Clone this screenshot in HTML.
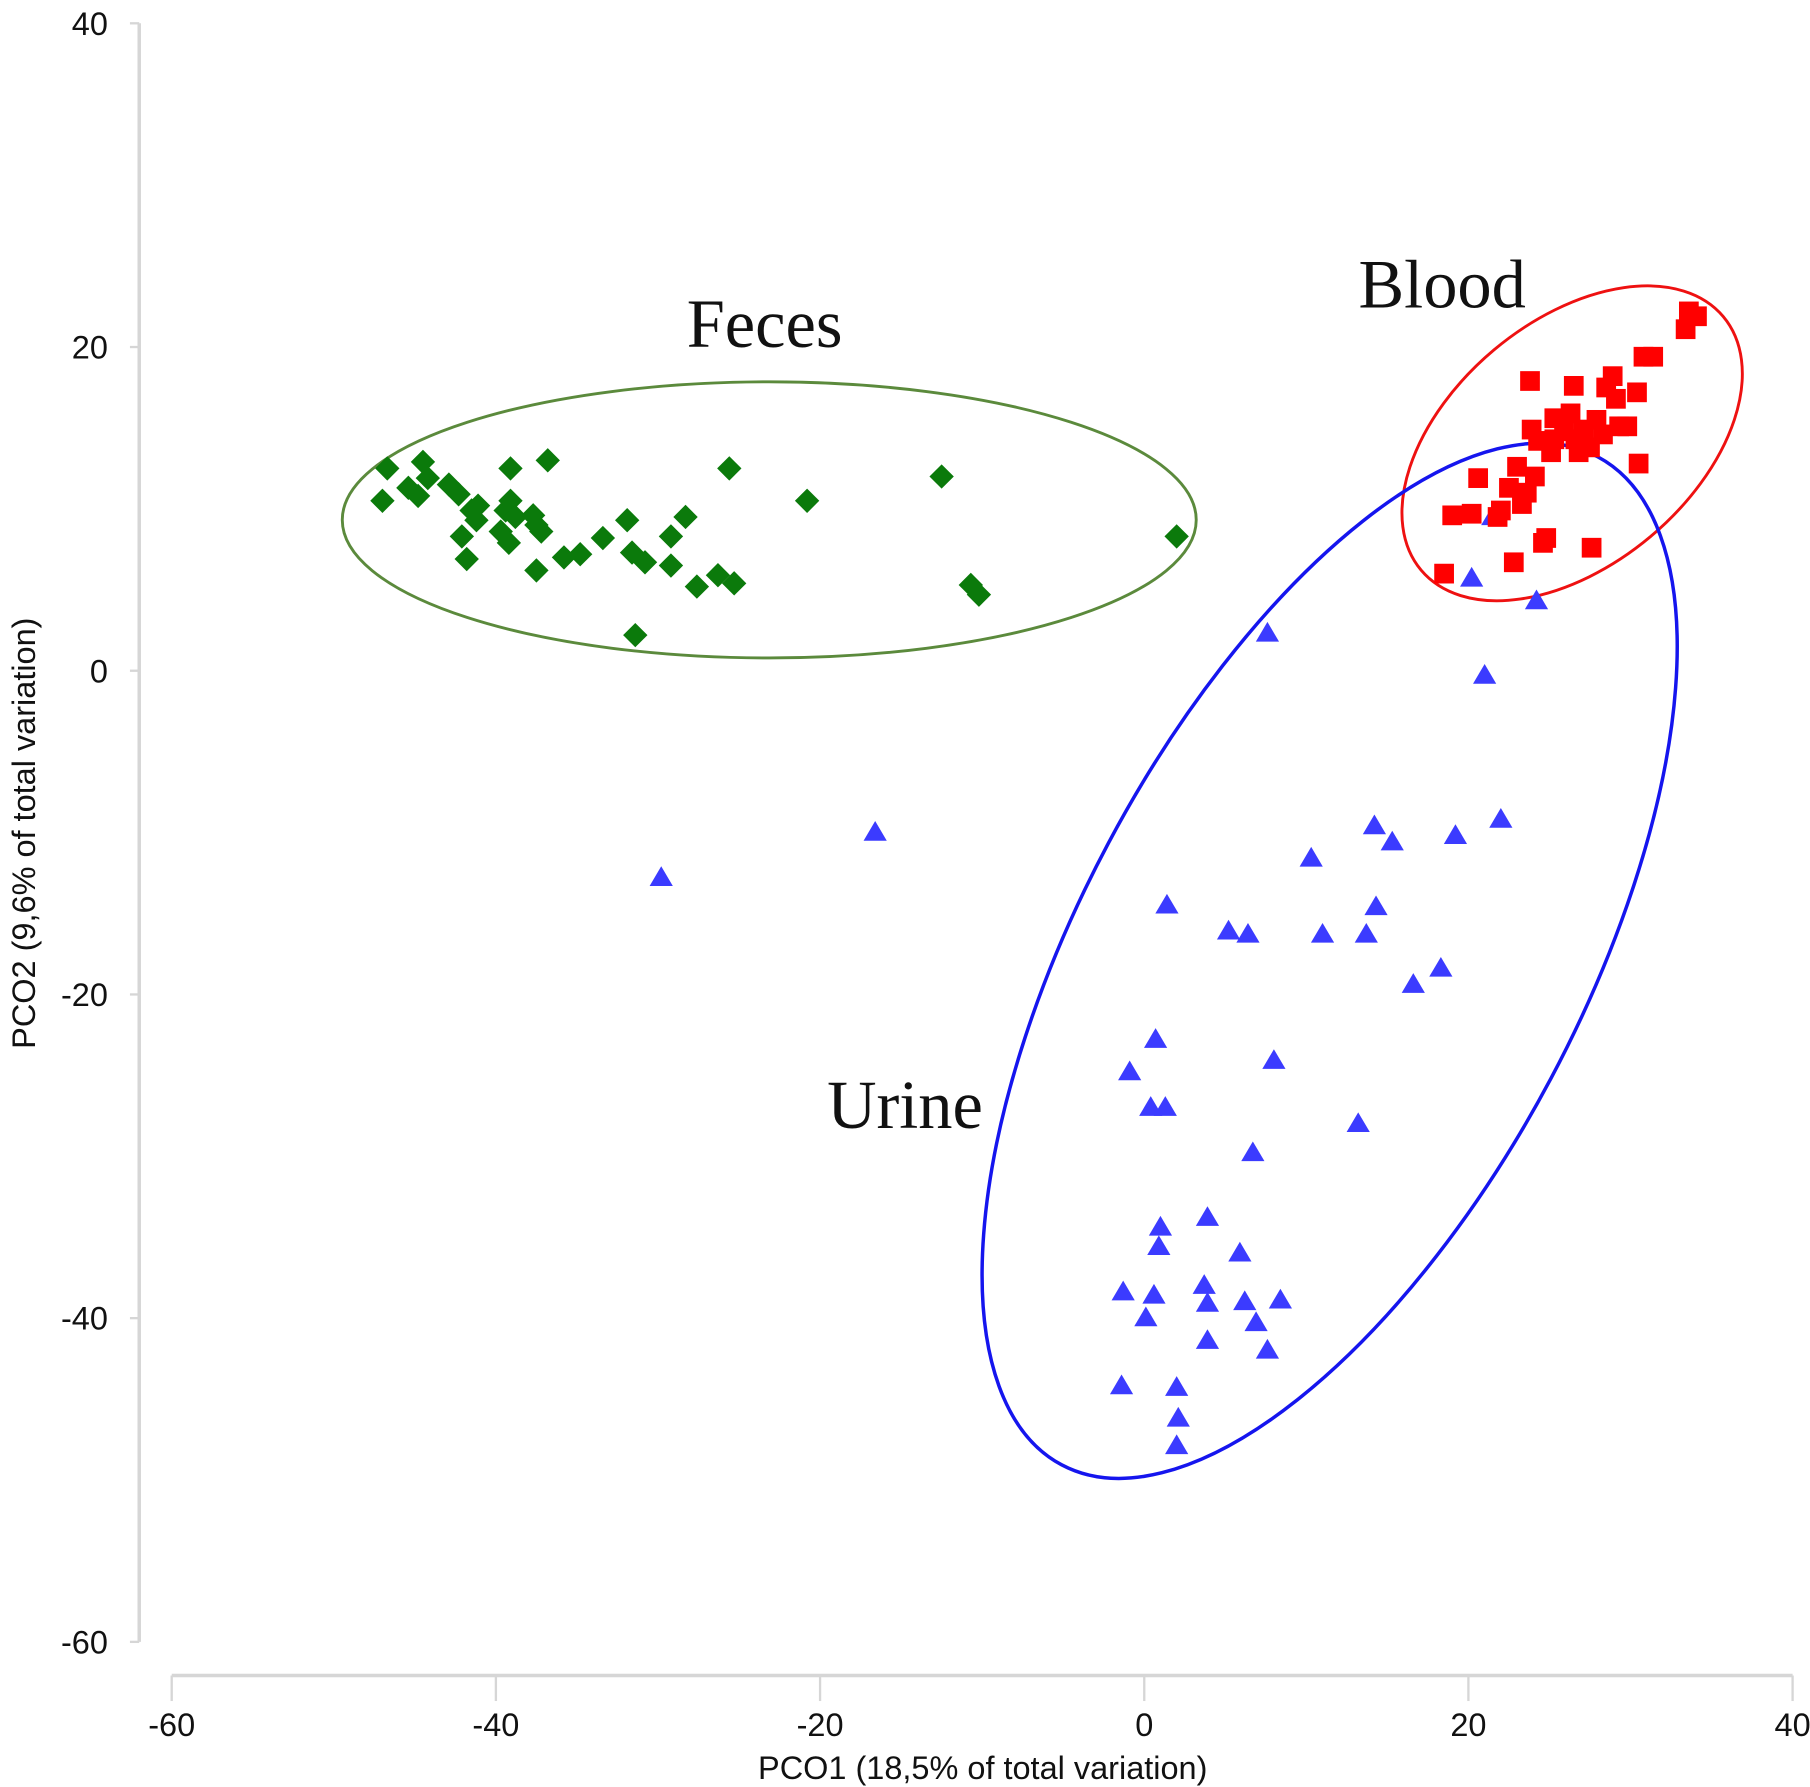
<!DOCTYPE html>
<html><head><meta charset="utf-8"><style>
html,body{margin:0;padding:0;background:#fff;}
svg{display:block;}
text{font-family:"Liberation Sans",Arial,sans-serif;}
</style></head><body>
<svg id="chart" width="1810" height="1787" viewBox="0 0 1560 1540" xmlns="http://www.w3.org/2000/svg">
<g id="axes"></g>
<g id="ellipses"></g>
<g id="points"></g>
<text x="659" y="299" text-anchor="middle" style="font-family:'Liberation Serif',serif;font-size:59px;fill:#111">Feces</text>
<text x="1243" y="265" text-anchor="middle" style="font-family:'Liberation Serif',serif;font-size:59px;fill:#111">Blood</text>
<text x="780" y="972" text-anchor="middle" style="font-family:'Liberation Serif',serif;font-size:59px;fill:#111">Urine</text>
<text x="847" y="1533" text-anchor="middle" font-size="28" fill="#111">PCO1 (18,5% of total variation)</text>
<text transform="translate(30,718) rotate(-90)" text-anchor="middle" font-size="28" fill="#111">PCO2 (9,6% of total variation)</text>
</svg>
<script>
const xTicks=[-60,-40,-20,0,20,40];
const yTicks=[40,20,0,-20,-40,-60];
const fecesX=[-46.7,-47.0,-45.4,-44.5,-44.8,-44.2,-42.9,-42.3,-42.1,-41.8,-41.5,-41.2,-41.1,-39.1,-39.4,-39.7,-39.2,-39.1,-38.8,-37.7,-37.5,-37.2,-36.8,-37.5,-35.8,-34.8,-33.4,-31.9,-31.6,-30.8,-29.2,-29.2,-28.3,-27.6,-26.3,-25.3,-25.6,-31.4,-20.8,-12.5,-10.7,-10.2,2.0];
const fecesY=[12.5,10.5,11.3,12.9,10.8,11.9,11.5,10.9,8.3,6.9,9.9,9.3,10.2,12.5,9.9,8.6,7.9,10.5,9.5,9.6,9.0,8.6,13.0,6.2,7.0,7.2,8.2,9.3,7.3,6.7,6.5,8.3,9.5,5.2,5.9,5.4,12.5,2.2,10.5,12.0,5.3,4.7,8.3];
const bloodX=[18.5,19.0,20.6,20.2,22.0,22.8,23.3,23.0,23.6,23.8,24.1,24.6,24.8,25.1,25.3,25.9,26.5,26.3,26.6,27.1,27.5,27.6,27.9,28.3,28.5,28.9,29.1,29.3,29.8,30.4,30.5,30.8,31.4,33.4,33.6,34.1,24.3,23.9,25.3,26.8,22.5,21.8];
const bloodY=[6.0,9.6,11.9,9.7,9.9,6.7,10.3,12.6,11.0,17.9,12.0,7.9,8.2,13.5,14.3,14.8,17.6,15.9,14.3,14.9,13.8,7.6,15.5,14.6,17.5,18.2,16.8,15.1,15.1,17.2,12.8,19.4,19.4,21.1,22.2,21.9,14.2,14.9,15.6,13.5,11.3,9.5];
const urineX=[-29.8,-16.6,7.6,20.2,21.5,24.2,21.0,22.0,19.2,14.2,15.3,10.3,1.4,5.2,6.4,11.0,13.7,14.3,18.3,16.6,0.7,-0.9,8.0,0.4,1.3,13.2,6.7,3.9,1.0,0.9,5.9,-1.3,0.6,3.7,3.9,6.2,8.4,0.1,6.9,3.9,7.6,-1.4,2.0,2.1,2.0];
const urineY=[-12.8,-10.0,2.3,5.7,9.5,4.3,-0.3,-9.2,-10.2,-9.6,-10.6,-11.6,-14.5,-16.1,-16.3,-16.3,-16.3,-14.6,-18.4,-19.4,-22.8,-24.8,-24.1,-27.0,-27.0,-28.0,-29.8,-33.8,-34.4,-35.6,-36.0,-38.4,-38.6,-38.0,-39.1,-39.0,-38.9,-40.0,-40.3,-41.4,-42.0,-44.2,-44.3,-46.2,-47.9];
const NS="http://www.w3.org/2000/svg";
function sx(v){return 148+(v+60)*13.97;}
function sy(v){return 578-v*13.95;}
function mk(tag,attrs,parent){const e=document.createElementNS(NS,tag);for(const k in attrs)e.setAttribute(k,attrs[k]);parent.appendChild(e);return e;}
const axes=document.getElementById('axes');
let l=mk('line',{x1:120,y1:sy(40),x2:120,y2:sy(-60),stroke:'#d6d6d6','stroke-width':3},axes);


l=mk('line',{x1:sx(-60),y1:1444,x2:sx(40),y2:1444,stroke:'#d6d6d6','stroke-width':3},axes);


yTicks.forEach(v=>{
  const t=mk('line',{x1:112,y1:sy(v),x2:120,y2:sy(v),stroke:'#d6d6d6','stroke-width':2},axes);
  
  
  const tx=mk('text',{x:93,y:sy(v)+10,'text-anchor':'end','font-size':28,fill:'#111'},axes);
  tx.textContent=v;
  
  
});
xTicks.forEach(v=>{
  const t=mk('line',{x1:sx(v),y1:1444,x2:sx(v),y2:1466,stroke:'#d6d6d6','stroke-width':2},axes);
  
  
  const tx=mk('text',{x:sx(v),y:1496,'text-anchor':'middle','font-size':28,fill:'#111'},axes);
  tx.textContent=v;
  
  
});
const el=document.getElementById('ellipses');
let e=mk('ellipse',{cx:663,cy:448,rx:368,ry:119,fill:'none',stroke:'#5b8a3c','stroke-width':2.5},el);


e=mk('ellipse',{cx:1355,cy:382,rx:170,ry:105,fill:'none',stroke:'#ee1111','stroke-width':2.5,transform:'rotate(-40 1355 382)'},el);


e=mk('ellipse',{cx:1146,cy:828,rx:492,ry:216,fill:'none',stroke:'#1515ee','stroke-width':3,transform:'rotate(-62 1146 828)'},el);


const pts=document.getElementById('points');
urineX.forEach((x,i)=>{
  const cx=sx(x),cy=sy(urineY[i]);
  const p=mk('polygon',{points:`${cx},${cy-10} ${cx+10},${cy+7} ${cx-10},${cy+7}`,fill:'#3b3bff'},pts);
  
  
});
fecesX.forEach((x,i)=>{
  const cx=sx(x),cy=sy(fecesY[i]);
  const p=mk('polygon',{points:`${cx},${cy-10.5} ${cx+10.5},${cy} ${cx},${cy+10.5} ${cx-10.5},${cy}`,fill:'#0b7a0b'},pts);
  
  
});
bloodX.forEach((x,i)=>{
  const cx=sx(x),cy=sy(bloodY[i]);
  const p=mk('rect',{x:cx-8.5,y:cy-8.5,width:17,height:17,fill:'#ff0000'},pts);
  
  
});
</script>
</body></html>
